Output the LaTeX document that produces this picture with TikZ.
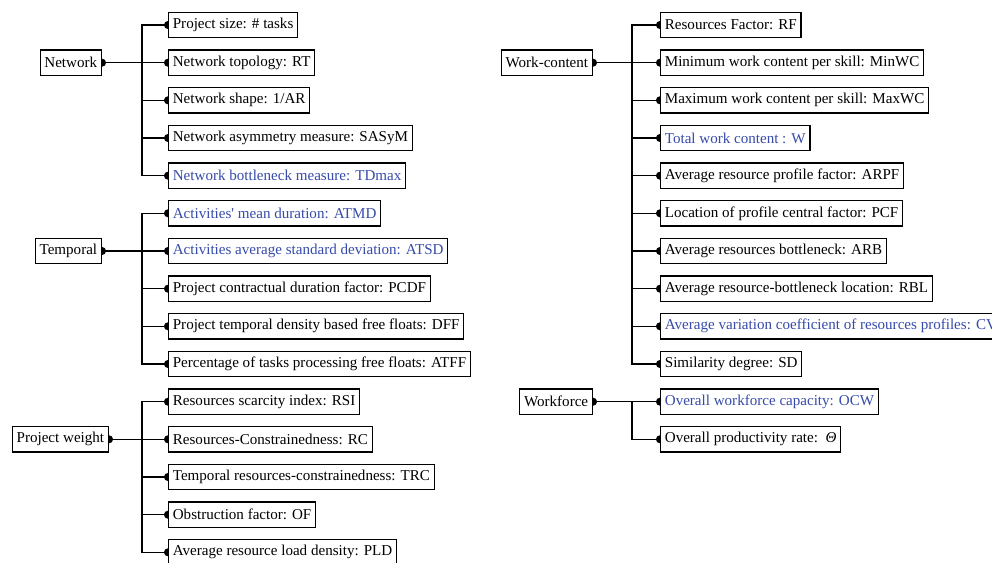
\documentclass[tikz,border=0pt]{standalone}
\usepackage{fontspec}
\setmainfont{Liberation Serif}
\usetikzlibrary{arrows.meta,backgrounds}
\definecolor{hlblue}{RGB}{55,75,170}
\begin{document}
\begin{tikzpicture}[x=0.75pt,y=-0.75pt,
  box/.style={draw, line width=0.9pt, fill=white, minimum height=19pt, inner xsep=3.2pt, inner ysep=0pt, font=\fontsize{11.3}{13.6}\selectfont},
  item/.style={box, anchor=west},
  head/.style={box, anchor=east},
  hl/.style={text=hlblue},
  conn/.style={line width=0.9pt},
  tipped/.style={conn, {Circle[length=6pt,width=6pt]}-{Circle[length=6pt,width=6pt]}, shorten <=-3pt, shorten >=-3pt},
  endtip/.style={conn, -{Circle[length=6pt,width=6pt]}, shorten >=-3pt}
]
\useasboundingbox (0,0) rectangle (992,563);
\coordinate (vL) at (142,0);
\coordinate (vR) at (632,0);

% Network
\node[head] (net) at (102,62.7) {Network};
\node[item] (n1) at (168,25.0) {Project size: \# tasks};
\node[item] (n2) at (168,62.7) {Network topology: RT};
\node[item] (n3) at (168,100.3) {Network shape: 1/AR};
\node[item] (n4) at (168,138.0) {Network asymmetry measure: SASyM};
\node[item,hl] (n5) at (168,175.7) {Network bottleneck measure: TDmax};

% Temporal
\node[head] (tem) at (102,251.0) {Temporal};
\node[item,hl] (t1) at (168,213.3) {Activities\textquotesingle{} mean duration: ATMD};
\node[item,hl] (t2) at (168,251.0) {Activities average standard deviation: ATSD};
\node[item] (t3) at (168,288.7) {Project contractual duration factor: PCDF};
\node[item] (t4) at (168,326.3) {Project temporal density based free floats: DFF};
\node[item] (t5) at (168,364.0) {Percentage of tasks processing free floats: ATFF};

% Project weight
\node[head] (pw) at (109,439.3) {Project weight};
\node[item] (p1) at (168,401.7) {Resources scarcity index: RSI};
\node[item] (p2) at (168,439.3) {Resources-Constrainedness: RC};
\node[item] (p3) at (168,477.0) {Temporal resources-constrainedness: TRC};
\node[item] (p4) at (168,514.7) {Obstruction factor: OF};
\node[item] (p5) at (168,552.3) {Average resource load density: PLD};

% Work-content
\node[head] (wc) at (593,62.7) {Work-content};
\node[item] (w1) at (660,25.0) {Resources Factor: RF};
\node[item] (w2) at (660,62.7) {Minimum work content per skill: MinWC};
\node[item] (w3) at (660,100.3) {Maximum work content per skill: MaxWC};
\node[item,hl] (w4) at (660,138.0) {Total work content : W};
\node[item] (w5) at (660,175.7) {Average resource profile factor: ARPF};
\node[item] (w6) at (660,213.3) {Location of profile central factor: PCF};
\node[item] (w7) at (660,251.0) {Average resources bottleneck: ARB};
\node[item] (w8) at (660,288.7) {Average resource-bottleneck location: RBL};
\node[item,hl] (w9) at (660,326.3) {Average variation coefficient of resources profiles: CV};
\node[item] (w10) at (660,364.0) {Similarity degree: SD};

% Workforce
\node[head] (wf) at (593,401.7) {Workforce};
\node[item,hl] (f1) at (660,401.7) {Overall workforce capacity: OCW};
\node[item] (f2) at (660,439.3) {Overall productivity rate:\ \ \textit{Θ}};

\begin{pgfonlayer}{background}
% Network
\draw[tipped] (net.east) -- (n2.west);
\draw[tipped] (n1.west) -- (n1.west -| vL) -- (n5.west -| vL) -- (n5.west);
\foreach \c in {n3,n4} \draw[endtip] (\c.west -| vL) -- (\c.west);
% Temporal
\draw[tipped] (tem.east) -- (t2.west);
\draw[tipped] (t1.west) -- (t1.west -| vL) -- (t5.west -| vL) -- (t5.west);
\foreach \c in {t3,t4} \draw[endtip] (\c.west -| vL) -- (\c.west);
% Project weight
\draw[tipped] (pw.east) -- (p2.west);
\draw[tipped] (p1.west) -- (p1.west -| vL) -- (p5.west -| vL) -- (p5.west);
\foreach \c in {p3,p4} \draw[endtip] (\c.west -| vL) -- (\c.west);
% Work-content
\draw[tipped] (wc.east) -- (w2.west);
\draw[tipped] (w1.west) -- (w1.west -| vR) -- (w10.west -| vR) -- (w10.west);
\foreach \c in {w3,w4,w5,w6,w7,w8,w9} \draw[endtip] (\c.west -| vR) -- (\c.west);
% Workforce
\draw[tipped] (wf.east) -- (f1.west);
\draw[endtip] (f1.west -| vR) -- (f2.west -| vR) -- (f2.west);
\end{pgfonlayer}
\end{tikzpicture}
\end{document}
